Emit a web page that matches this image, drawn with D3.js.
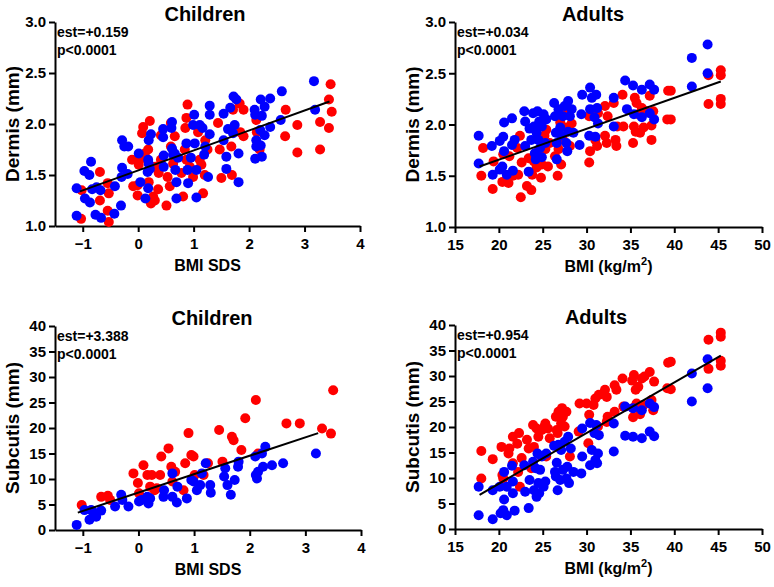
<!DOCTYPE html>
<html>
<head>
<meta charset="utf-8">
<script src="https://cdn.jsdelivr.net/npm/d3@7"></script>
<style>
body { margin: 0; background: #fff; }
svg text { font-family: "Liberation Sans", Arial, sans-serif; font-weight: bold; fill: #000; }
.axis path, .axis line { stroke: #000; stroke-width: 2px; }
.axis text { font-size: 15px; }
</style>
</head>
<body>
<div id="chart"></div>
<script>
// tick labels
var dermisTicks = [1.0, 1.5, 2.0, 2.5, 3.0];
var subcutisTicks = [0, 5, 10, 15, 20, 25, 30, 35, 40];
var sdsTicks = [-1, 0, 1, 2, 3, 4];
var bmiTicks = [15, 20, 25, 30, 35, 40, 45, 50];

// children, dermis (BMI SDS, mm)
var childDermisRed = [[-1.03,1.07],[-1.02,1.35],[-0.69,1.53],[-0.69,1.25],[-0.55,1.42],[-0.53,1.32],[-0.55,1.15],[-0.53,1.04],
  [-0.11,1.65],[-0.09,1.39],[-0.01,1.30],[-0.01,1.40],[0.01,1.60],[0.03,1.65],[0.07,1.91],[0.09,1.97],[0.12,1.71],[0.18,1.75],
  [0.21,2.03],[0.19,1.43],[0.23,1.22],[0.27,1.29],[0.30,1.25],[0.31,1.58],[0.36,1.36],[0.37,1.52],[0.41,1.65],[0.41,1.89],
  [0.51,1.20],[0.53,1.48],[0.59,2.01],[0.59,1.78],[0.57,1.39],[0.63,1.61],[0.66,1.88],[0.78,1.52],[0.81,1.29],[0.84,1.75],
  [0.85,1.96],[0.87,2.06],[0.89,2.19],[0.87,1.65],[0.93,1.58],[0.99,1.48],[1.08,1.92],[1.11,1.65],[1.14,1.60],[1.17,1.32],
  [1.20,1.50],[1.21,1.84],[1.25,1.75],[1.44,2.01],[1.47,1.75],[1.50,1.47],[1.68,1.78],[1.69,1.50],[1.71,2.14],[1.83,2.20],
  [1.84,1.92],[1.90,1.88],[1.90,2.14],[2.13,2.04],[2.14,1.92],[2.19,1.75],[2.65,1.88],[2.66,2.14],[2.87,1.72],[2.87,1.99],
  [3.28,1.75],[3.28,2.02],[3.44,2.24],[3.44,1.96],[3.47,2.39],[3.49,2.12]];
var childDermisBlue = [[-1.11,1.37],[-1.11,1.10],[-0.97,1.54],[-0.96,1.27],[-0.88,1.50],[-0.87,1.23],[-0.85,1.63],[-0.83,1.36],
  [-0.77,1.11],[-0.75,1.38],[-0.68,1.35],[-0.67,1.08],[-0.42,1.39],[-0.43,1.12],[-0.31,1.20],[-0.29,1.57],[-0.29,1.84],
  [-0.25,1.78],[-0.18,1.78],[-0.19,1.51],[-0.30,1.48],[0.01,1.71],[0.04,1.43],[0.13,1.27],[0.17,1.53],[0.18,1.37],[0.18,1.65],
  [0.19,1.84],[0.23,1.90],[0.21,1.56],[0.19,1.61],[0.45,1.95],[0.45,1.87],[0.46,1.58],[0.46,1.69],[0.61,2.02],[0.60,1.96],
  [0.61,1.76],[0.66,1.71],[0.67,1.55],[0.69,1.43],[0.69,1.27],[0.72,1.67],[0.63,1.70],[0.87,1.81],[0.89,1.55],[0.90,1.42],
  [0.95,1.67],[0.99,1.99],[1.01,2.09],[1.02,1.81],[1.05,1.28],[1.05,1.55],[1.11,1.99],[1.16,1.96],[1.19,1.70],[1.21,1.78],
  [1.26,1.48],[1.29,1.90],[1.29,2.09],[1.29,2.18],[1.54,1.84],[1.54,2.10],[1.59,1.68],[1.59,1.56],[1.62,1.95],[1.66,2.16],
  [1.71,1.91],[1.72,2.27],[1.74,1.99],[1.77,2.24],[1.81,1.71],[1.81,1.43],[2.10,2.14],[2.13,1.84],[2.11,1.66],[2.13,1.78],
  [2.11,2.09],[2.20,1.94],[2.21,2.24],[2.23,2.08],[2.21,1.79],[2.23,1.68],[2.28,2.17],[2.28,1.89],[2.38,2.25],[2.38,1.97],
  [2.57,2.04],[2.59,2.32],[3.17,2.42],[3.19,2.14]];
var childDermisFit = [[-1.05,1.34],[3.45,2.22]];

// adults, dermis (BMI kg/m2, mm)
var adultDermisRed = [[18.0,1.50],[18.2,1.77],[19.3,1.37],[19.4,1.64],[20.4,1.44],[20.5,1.71],[21.1,1.43],[21.2,1.69],
  [21.6,1.50],[22.1,1.77],[22.2,1.51],[22.4,1.89],[22.5,1.29],[22.6,1.63],[23.2,1.40],[23.4,1.67],[23.7,1.36],[23.8,1.51],
  [24.0,1.64],[24.3,1.58],[24.5,1.74],[24.8,1.48],[24.9,1.61],[25.2,1.89],[25.3,1.76],[25.4,1.95],[25.6,1.59],[25.8,1.82],
  [26.4,1.69],[26.7,1.50],[26.8,1.76],[27.0,2.02],[27.1,1.61],[27.3,1.85],[27.5,2.10],[27.7,1.97],[28.1,1.79],[28.3,2.01],
  [30.3,1.63],[30.3,2.08],[30.4,1.74],[31.0,1.85],[31.2,1.79],[31.3,2.11],[32.1,2.18],[32.1,1.89],[32.3,1.82],[32.4,2.08],
  [33.1,2.21],[33.3,1.85],[33.4,1.79],[33.5,1.98],[34.1,2.29],[34.2,1.98],[35.3,1.82],[35.4,1.98],[35.5,2.26],[35.6,1.93],
  [35.7,2.21],[35.9,2.10],[36.1,1.92],[36.3,2.16],[36.5,1.97],[36.8,2.13],[37.2,2.28],[37.4,1.85],[37.4,1.99],[37.6,2.13],
  [39.2,2.05],[39.3,2.33],[39.6,2.05],[39.6,2.33],[43.9,2.48],[43.9,2.20],[45.3,2.53],[45.3,2.48],[45.3,2.25],[45.3,2.20]];
var adultDermisBlue = [[17.7,1.89],[17.7,1.62],[19.2,1.79],[19.3,1.51],[20.1,1.84],[20.5,1.88],[20.6,2.02],[20.6,1.74],
  [20.4,1.59],[20.1,1.56],[20.9,1.51],[21.5,1.80],[21.5,2.06],[21.6,1.55],[21.8,1.85],[22.9,2.13],[23.0,2.03],[23.0,1.79],
  [23.4,1.54],[23.5,1.96],[23.7,1.85],[23.9,2.11],[24.0,1.98],[24.1,1.72],[24.2,1.66],[24.3,1.92],[24.4,2.13],[24.5,1.85],
  [24.6,2.03],[24.7,1.77],[24.9,1.98],[25.1,2.10],[25.3,1.82],[25.4,2.05],[24.9,1.68],[26.3,2.21],[26.4,2.08],[26.5,1.92],
  [26.6,1.82],[26.6,1.66],[26.8,2.15],[27.0,1.97],[27.1,1.89],[27.3,2.08],[27.5,2.18],[27.7,1.82],[27.9,1.93],[27.9,2.23],
  [28.1,2.08],[27.8,1.74],[28.3,2.15],[28.5,1.92],[29.2,1.80],[29.4,2.10],[29.5,2.29],[30.3,1.89],[30.4,2.36],[30.4,2.15],
  [30.6,2.26],[30.9,2.07],[31.0,1.88],[31.1,2.29],[31.2,2.16],[31.3,2.01],[33.1,1.98],[33.1,2.26],[34.4,2.43],[34.6,2.15],
  [35.3,2.38],[35.4,2.10],[36.3,2.34],[36.3,2.07],[37.2,2.39],[37.2,2.11],[37.7,2.34],[37.7,2.05],[42.0,2.65],[42.0,2.37],
  [43.8,2.78],[43.8,2.50]];
var adultDermisFit = [[17.8,1.59],[45.3,2.42]];

// children, subcutis (BMI SDS, mm)
var childSubRed = [[-1.02,4.9],[-0.67,6.5],[-0.55,6.7],[-0.51,5.9],[-0.09,11.1],[-0.01,9.2],[0.01,7.2],[0.09,12.7],
  [0.16,10.8],[0.21,8.5],[0.24,10.8],[0.29,7.8],[0.33,8.2],[0.39,10.8],[0.41,14.4],[0.54,16.0],[0.59,12.4],[0.61,9.5],
  [0.66,11.4],[0.81,7.8],[0.84,13.1],[0.90,19.0],[0.95,14.7],[0.99,14.4],[1.01,10.8],[1.17,10.8],[1.25,13.1],[1.45,19.6],
  [1.51,13.4],[1.68,18.3],[1.71,17.6],[1.85,15.7],[1.92,21.9],[2.11,25.5],[2.15,15.0],[2.66,20.9],[2.90,20.9],[3.30,19.9],
  [3.46,18.9],[3.50,27.4]];
var childSubBlue = [[-1.11,1.0],[-0.97,3.9],[-0.88,2.0],[-0.85,3.9],[-0.82,3.6],[-0.76,2.6],[-0.67,3.8],[-0.42,4.6],
  [-0.31,6.9],[-0.29,5.9],[-0.18,4.6],[0.01,5.6],[0.06,5.9],[0.16,6.5],[0.18,5.2],[0.21,6.2],[0.45,6.5],[0.46,7.8],
  [0.61,6.5],[0.61,11.1],[0.69,5.4],[0.70,8.5],[0.87,6.2],[0.95,9.8],[0.99,9.5],[1.05,7.8],[1.11,8.8],[1.14,11.1],
  [1.21,13.1],[1.29,8.8],[1.30,7.3],[1.54,10.5],[1.56,12.1],[1.60,8.8],[1.66,6.9],[1.73,9.8],[1.79,12.4],[1.80,13.4],
  [2.10,14.4],[2.11,10.8],[2.13,10.1],[2.15,11.4],[2.22,15.0],[2.24,12.4],[2.28,16.3],[2.40,12.7],[2.60,13.1],[3.19,15.0]];
var childSubFit = [[-1.09,3.4],[3.23,19.0]];

// adults, subcutis (BMI kg/m2, mm)
var adultSubRed = [[18.0,9.9],[18.0,15.3],[19.3,13.7],[20.3,16.1],[20.4,10.6],[20.5,9.9],[21.1,14.8],[21.2,15.8],
  [21.6,18.1],[21.6,12.9],[22.1,16.7],[22.2,11.2],[22.3,18.8],[22.4,8.3],[22.6,13.9],[23.2,17.5],[23.4,15.8],[23.7,11.9],
  [23.9,20.4],[24.0,16.1],[24.3,19.7],[24.5,18.1],[24.8,14.3],[24.9,19.4],[25.2,20.1],[25.3,20.7],[25.4,14.2],[25.6,19.7],
  [25.8,17.8],[26.5,22.0],[26.6,19.4],[26.7,18.8],[26.8,23.0],[27.0,15.8],[27.1,20.7],[27.2,23.7],[27.3,22.0],[27.5,20.1],
  [27.7,23.0],[28.1,14.2],[29.1,19.1],[29.2,24.6],[30.0,24.6],[30.2,16.8],[30.3,22.4],[30.8,24.3],[31.0,25.6],[31.3,20.1],
  [31.4,26.3],[32.1,27.3],[32.3,25.9],[32.3,21.0],[32.4,22.0],[33.2,28.2],[33.2,23.0],[33.4,27.3],[34.1,29.5],[34.2,24.0],
  [35.2,29.1],[35.3,23.7],[35.3,21.9],[35.4,30.2],[35.6,27.3],[35.7,24.6],[35.9,27.9],[36.1,22.5],[36.3,29.5],[36.5,24.3],
  [36.6,29.9],[37.2,30.8],[37.4,25.3],[37.6,23.3],[37.7,28.9],[39.2,27.6],[39.3,32.6],[39.6,27.4],[39.6,32.8],[43.9,37.1],
  [43.9,31.4],[45.3,38.5],[45.3,37.7],[45.3,33.0],[45.3,32.0]];
var adultSubBlue = [[17.7,8.3],[17.7,2.7],[19.3,7.6],[19.3,1.9],[20.1,8.3],[20.2,3.1],[20.5,3.7],[20.6,11.2],[20.6,5.8],
  [20.9,8.3],[20.9,2.7],[21.5,12.4],[21.6,9.3],[21.6,7.0],[21.8,3.6],[22.9,12.5],[23.0,7.3],[23.4,4.1],[23.5,9.6],
  [23.9,13.2],[24.0,7.6],[24.2,11.9],[24.3,6.3],[24.4,14.8],[24.5,9.0],[24.6,7.0],[24.7,11.6],[24.9,14.2],[25.1,8.3],
  [25.3,9.3],[25.4,14.8],[26.3,16.3],[26.4,11.2],[26.5,10.3],[26.6,13.0],[26.7,7.6],[26.8,16.5],[27.0,9.6],[27.1,15.5],
  [27.3,11.6],[27.5,17.1],[27.7,9.9],[27.8,12.2],[27.9,18.1],[28.0,9.0],[28.2,15.8],[28.5,11.2],[29.4,10.9],[29.5,14.2],
  [29.5,19.7],[30.4,12.5],[30.4,20.8],[30.6,15.5],[30.9,18.8],[31.0,13.5],[31.1,20.4],[31.2,12.9],[31.3,14.8],[31.4,18.4],
  [33.1,15.2],[33.1,20.7],[34.4,18.3],[34.4,24.0],[35.3,18.1],[35.3,23.7],[36.3,17.8],[36.3,23.3],[37.2,19.1],[37.2,24.6],
  [37.7,18.2],[37.7,23.9],[42.0,25.0],[42.0,30.5],[43.8,27.6],[43.8,33.3]];
var adultSubFit = [[17.8,6.7],[45.3,34.0]];

var svg = d3.select("#chart").append("svg")
    .attr("width", 774)
    .attr("height", 587);

var panels = [
  {title: "Children", yLabel: "Dermis (mm)", xLabel: "BMI SDS", est: "est=+0.159",
   red: childDermisRed, blue: childDermisBlue, fit: childDermisFit,
   xDom: [-1.5, 4], xTicks: sdsTicks, yDom: [1, 3], yTicks: dermisTicks, yFmt: d3.format(".1f"),
   left: 55, right: 360, top: 22, bottom: 226, titleX: 205, yLabX: 19},
  {title: "Adults", yLabel: "Dermis (mm)", xLabel: "BMI (kg/m", est: "est=+0.034",
   red: adultDermisRed, blue: adultDermisBlue, fit: adultDermisFit,
   xDom: [15, 50], xTicks: bmiTicks, yDom: [1, 3], yTicks: dermisTicks, yFmt: d3.format(".1f"),
   left: 455, right: 762, top: 22, bottom: 227, titleX: 593, yLabX: 419},
  {title: "Children", yLabel: "Subcutis (mm)", xLabel: "BMI SDS", est: "est=+3.388",
   red: childSubRed, blue: childSubBlue, fit: childSubFit,
   xDom: [-1.5, 4], xTicks: sdsTicks, yDom: [0, 40], yTicks: subcutisTicks, yFmt: d3.format("d"),
   left: 55, right: 361, top: 326, bottom: 530, titleX: 212, yLabX: 19},
  {title: "Adults", yLabel: "Subcutis (mm)", xLabel: "BMI (kg/m", est: "est=+0.954",
   red: adultSubRed, blue: adultSubBlue, fit: adultSubFit,
   xDom: [15, 50], xTicks: bmiTicks, yDom: [0, 40], yTicks: subcutisTicks, yFmt: d3.format("d"),
   left: 455, right: 762, top: 325, bottom: 529, titleX: 596, yLabX: 419}
];

panels.forEach(function(p) {
    var x = d3.scaleLinear().domain(p.xDom).range([p.left, p.right]);
    var y = d3.scaleLinear().domain(p.yDom).range([p.bottom, p.top]);
    var g = svg.append("g");

    g.append("g")
        .attr("class", "axis")
        .attr("transform", "translate(0," + p.bottom + ")")
        .call(d3.axisBottom(x).tickValues(p.xTicks).tickFormat(d3.format("d"))
            .tickSize(6).tickSizeOuter(0).tickPadding(6));

    g.append("g")
        .attr("class", "axis")
        .attr("transform", "translate(" + p.left + ",0)")
        .call(d3.axisLeft(y).tickValues(p.yTicks).tickFormat(p.yFmt).tickSize(6).tickSizeOuter(0).tickPadding(3));

    g.selectAll(".red")
        .data(p.red)
        .enter()
        .append("circle")
        .attr("cx", function(d) { return x(d[0]); })
        .attr("cy", function(d) { return y(d[1]); })
        .attr("r", 5)
        .attr("fill", "#ff0000");

    g.selectAll(".blue")
        .data(p.blue)
        .enter()
        .append("circle")
        .attr("cx", function(d) { return x(d[0]); })
        .attr("cy", function(d) { return y(d[1]); })
        .attr("r", 5)
        .attr("fill", "#0000ff");

    g.append("path")
        .datum(p.fit)
        .attr("fill", "none")
        .attr("stroke", "#000")
        .attr("stroke-width", 2)
        .attr("d", d3.line().x(function(d) { return x(d[0]); }).y(function(d) { return y(d[1]); }));

    g.append("text")
        .attr("x", p.titleX)
        .attr("y", p.top - 1)
        .attr("text-anchor", "middle")
        .style("font-size", "20px")
        .text(p.title);

    g.append("text")
        .attr("x", p.left + 2)
        .attr("y", p.top + 15)
        .style("font-size", "14px")
        .text(p.est);

    g.append("text")
        .attr("x", p.left + 2)
        .attr("y", p.top + 33)
        .style("font-size", "14px")
        .text("p<0.0001");

    g.append("text")
        .attr("transform", "translate(" + p.yLabX + "," + (p.top + p.bottom) / 2 + ") rotate(-90)")
        .attr("text-anchor", "middle")
        .style("font-size", "19px")
        .text(p.yLabel);

    var xl = g.append("text")
        .attr("x", (p.left + p.right) / 2)
        .attr("y", p.bottom + 45)
        .attr("text-anchor", "middle")
        .style("font-size", "16px")
        .text(p.xLabel);
    if (p.xLabel != "BMI SDS") {
        xl.append("tspan").attr("dy", -7).style("font-size", "11px").text("2");
        xl.append("tspan").attr("dy", 7).text(")");
    }
});
</script>
</body>
</html>
